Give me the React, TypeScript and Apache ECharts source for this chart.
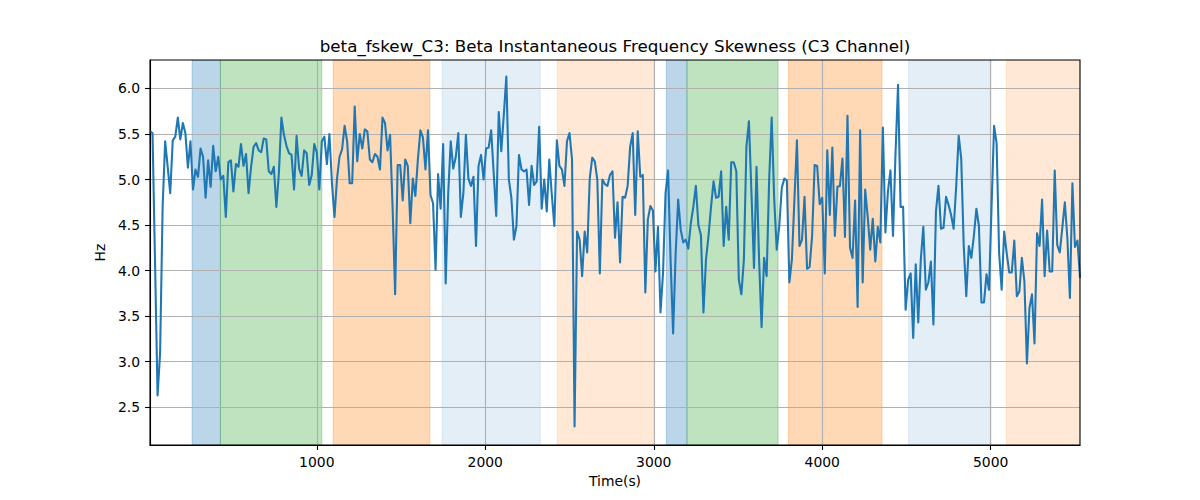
import React, { useEffect, useRef } from "react";
import * as echarts from "echarts";

// Sampling of the signal (seconds)
const T0 = 10;
const STEP = 15;

// Values, left to right, in six consecutive stretches
const SEG1 = [
  5.53, 5.51, 4.08, 2.63, 3.1, 4.7, 5.42, 5.14, 4.85, 5.43,
  5.47, 5.68, 5.44, 5.62, 5.51, 5.13, 5.42, 4.89, 5.11, 5.03,
  5.34, 5.25, 4.8, 5.21, 4.92, 5.37, 5.09, 5.25, 5.0, 5.04,
  4.59, 5.19, 5.21, 4.87, 5.17, 5.14, 5.39, 5.15, 5.28, 4.85,
  5.14, 5.36, 5.4, 5.32, 5.3, 5.45, 5.44, 5.09, 5.06, 5.14,
  4.7, 5.07, 5.68, 5.49, 5.37, 5.29, 5.27, 4.89, 5.48, 5.12,
  5.04, 5.32,
];
const SEG2 = [
  5.29, 4.94, 5.05, 5.39, 5.3, 4.89, 5.42, 5.47, 5.17, 5.5,
  4.96, 4.59, 5.01, 5.25, 5.33, 5.59, 5.42, 4.96, 4.96, 5.8,
  5.2, 5.5, 5.34, 5.55, 5.53, 5.22, 5.19, 5.28, 5.25, 5.11,
  5.68, 5.62, 5.32, 5.49, 4.69, 3.74, 5.16, 5.16, 4.77, 5.22,
  5.15, 4.52, 5.01, 4.82, 5.22, 5.54, 5.46, 5.11, 5.54, 4.83,
  4.74, 4.01, 5.06, 4.68, 5.39, 3.86, 4.85, 5.42, 5.12, 5.25,
  5.51,
];
const SEG3 = [
  4.59, 4.85, 5.49, 5.01, 4.93, 5.03, 4.27, 5.15, 5.27, 5.0,
  5.34, 5.35, 5.54, 5.07, 4.6, 5.74, 5.31, 5.71, 6.13, 5.0,
  4.8, 4.34, 4.49, 5.27, 5.11, 5.09, 5.11, 4.72, 5.15, 4.94,
  4.98, 5.58, 4.68, 5.0, 4.65, 5.22, 4.83, 4.49, 5.43, 5.15,
  5.11, 4.93, 5.42, 5.51, 5.22, 2.29, 4.43, 4.34, 3.94, 4.43,
  4.2, 5.01, 5.24, 5.2, 5.0, 3.97, 5.0, 4.95, 4.93, 5.05,
  5.09, 4.36,
];
const SEG4 = [
  4.75, 4.09, 4.81, 4.8, 4.93, 5.36, 5.51, 4.61, 5.53, 5.03,
  5.05, 3.76, 4.56, 4.71, 4.66, 3.99, 4.48, 3.54, 3.97, 4.85,
  5.1, 4.12, 3.31, 4.19, 4.78, 4.45, 4.31, 4.34, 4.24, 4.52,
  4.7, 4.93, 4.5, 4.39, 3.54, 4.12, 4.38, 4.7, 4.98, 4.8,
  4.81, 5.09, 4.27, 4.7, 4.34, 5.19, 5.19, 5.09, 3.9, 3.74,
  4.12, 5.36, 5.64, 4.85, 4.03, 5.14, 4.13, 3.38, 4.14, 3.94,
  5.0,
];
const SEG5 = [
  5.68, 4.78, 4.23, 4.49, 4.91, 5.01, 4.99, 3.87, 4.12, 4.78,
  5.43, 4.27, 4.34, 4.81, 4.02, 4.04, 4.38, 5.16, 5.15, 4.73,
  4.8, 3.97, 5.32, 4.61, 5.35, 4.38, 4.92, 4.93, 5.23, 4.37,
  5.7, 4.25, 4.14, 4.77, 3.6, 5.54, 3.87, 4.89, 4.59, 4.23,
  4.57, 4.1, 4.48, 4.31, 5.57, 4.42, 4.87, 5.1, 4.38, 5.29,
  6.04, 4.7, 4.7, 3.57, 3.9, 3.97, 3.26, 4.07, 3.43, 4.12,
  4.48,
];
const SEG6 = [
  3.79, 3.87, 4.1, 3.41, 4.65, 4.93, 4.46, 4.47, 4.81, 4.72,
  4.61, 4.46, 4.92, 5.48, 5.23, 4.27, 3.72, 4.27, 4.14, 4.38,
  4.68, 4.49, 3.65, 3.65, 3.96, 3.79, 4.7, 5.59, 5.4, 4.19,
  3.79, 4.43, 4.19, 3.98, 3.98, 4.33, 3.72, 3.77, 4.14, 3.88,
  2.98, 3.59, 3.74, 3.2, 4.41, 4.27, 4.78, 3.94, 4.44, 3.99,
  3.99, 5.1, 4.28, 4.2, 4.47, 4.75, 4.36, 3.7, 4.96, 4.26,
  4.33, 3.92,
];
const VALUES = [...SEG1, ...SEG2, ...SEG3, ...SEG4, ...SEG5, ...SEG6];

// Axes
const X_MIN = T0;
const X_MAX = T0 + (VALUES.length - 1) * STEP;
const Y_MIN = 2.086;
const Y_MAX = 6.312;
const X_TICKS = [1000, 2000, 3000, 4000, 5000];
const Y_TICKS = [2.5, 3.0, 3.5, 4.0, 4.5, 5.0, 5.5, 6.0];

// Shaded intervals (seconds) and their class
const SPAN_START = [260, 428, 1097, 1744, 2427, 3075, 3197, 3800, 4513, 5093];
const SPAN_END = [428, 1030, 1671, 2326, 3001, 3197, 3738, 4355, 5002, 5530];
const SPAN_KIND = [0, 1, 2, 3, 4, 0, 1, 2, 3, 4];

const KIND_COLORS = [
  "rgba(31,119,180,0.3)",
  "rgba(44,160,44,0.3)",
  "rgba(255,127,14,0.3)",
  "rgba(31,119,180,0.12)",
  "rgba(255,127,14,0.17)",
];

const TITLE = "beta_fskew_C3: Beta Instantaneous Frequency Skewness (C3 Channel)";
const FONT = "DejaVu Sans";

export default function App() {
  const ref = useRef<HTMLDivElement>(null);

  useEffect(() => {
    if (!ref.current) return;
    const chart = echarts.init(ref.current, undefined, { renderer: "svg" });

    const lineData = VALUES.map((v, i) => [T0 + i * STEP, v]);
    const spanData = SPAN_START.map((s, i) => [s, SPAN_END[i], SPAN_KIND[i]]);

    const option: any = {
      animation: false,
      backgroundColor: "#ffffff",
      textStyle: { fontFamily: FONT },
      grid: {
        left: 150,
        right: 120,
        top: 60,
        bottom: 55,
        show: true,
        z: 3,
        backgroundColor: "transparent",
        borderColor: "#000000",
        borderWidth: 1.1,
      },
      graphic: [
        {
          type: "text",
          x: 615,
          y: 46,
          z: 10,
          style: {
            text: TITLE,
            fill: "#000000",
            font: `16.7px "${FONT}"`,
            textAlign: "center",
            textVerticalAlign: "middle",
          },
        },
      ],
      xAxis: {
        type: "value",
        min: X_MIN,
        max: X_MAX,
        z: 1,
        name: "Time(s)",
        nameLocation: "middle",
        nameGap: 27,
        nameTextStyle: { color: "#000", fontFamily: FONT, fontSize: 13.9 },
        axisLine: { show: true, lineStyle: { color: "#000", width: 1.1 } },
        axisTick: {
          show: true,
          length: 5,
          inside: false,
          customValues: X_TICKS,
          lineStyle: { color: "#000", width: 1.1 },
        },
        axisLabel: {
          show: true,
          margin: 10,
          customValues: X_TICKS,
          color: "#000",
          fontFamily: FONT,
          fontSize: 13.9,
          formatter: (v: number) => String(Math.round(v)),
        },
        splitLine: { show: true, lineStyle: { color: "#b0b0b0", width: 1.1 } },
      },
      yAxis: {
        type: "value",
        min: Y_MIN,
        max: Y_MAX,
        z: 1,
        name: "Hz",
        nameLocation: "middle",
        nameGap: 36,
        nameTextStyle: { color: "#000", fontFamily: FONT, fontSize: 13.9 },
        axisLine: { show: true, lineStyle: { color: "#000", width: 1.1 } },
        axisTick: {
          show: true,
          length: 5,
          inside: false,
          customValues: Y_TICKS,
          lineStyle: { color: "#000", width: 1.1 },
        },
        axisLabel: {
          show: true,
          margin: 10,
          customValues: Y_TICKS,
          color: "#000",
          fontFamily: FONT,
          fontSize: 13.9,
          formatter: (v: number) => v.toFixed(1),
        },
        splitLine: { show: true, lineStyle: { color: "#b0b0b0", width: 1.1 } },
      },
      series: [
        {
          type: "custom",
          z: 0.5,
          silent: true,
          clip: true,
          encode: { x: [0, 1] },
          data: spanData,
          renderItem: (params: any, api: any) => {
            const s = api.value(0);
            const e = api.value(1);
            const k = api.value(2);
            const p0 = api.coord([s, Y_MAX]);
            const p1 = api.coord([e, Y_MIN]);
            return {
              type: "rect",
              shape: { x: p0[0], y: p0[1], width: p1[0] - p0[0], height: p1[1] - p0[1] },
              style: { fill: KIND_COLORS[k], stroke: KIND_COLORS[k], lineWidth: 1 },
            };
          },
        },
        {
          type: "line",
          z: 2,
          data: lineData,
          showSymbol: false,
          symbol: "none",
          clip: true,
          lineStyle: { color: "#1f77b4", width: 2.08, join: "round", cap: "butt" },
        },
      ],
    };

    chart.setOption(option);
    return () => chart.dispose();
  }, []);

  return (
    <div
      ref={ref}
      style={{ position: "absolute", left: 0, top: 0, width: 1200, height: 500 }}
    />
  );
}
